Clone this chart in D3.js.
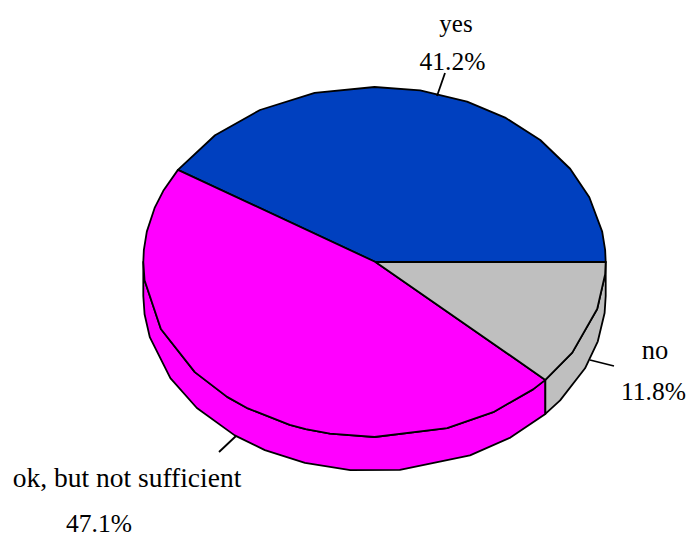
<!DOCTYPE html>
<html><head><meta charset="utf-8">
<script src="https://cdn.jsdelivr.net/npm/d3@7"></script>
<style>html,body{margin:0;padding:0;background:#fff}svg{display:block}text{font-family:"Liberation Serif",serif;fill:#000;text-anchor:middle}</style>
</head><body><script>
const categories=["yes","ok, but not sufficient","no"];
const counts=[7,8,2];
const percentLabels=["41.2%","47.1%","11.8%"];
const colours=["#0040bf","#ff00ff","#bfbfbf"];
// polygon vertices of the coarse ellipse, in degrees round the disc
const rimDegrees=[4,10,21.7,32.2,44.2,55.6,66.4,78.6,90,105,119.7,133.6,156,162,170,176,180,186,202.5,219,230.4,236.8,248.5,252.7,258.9,270,288.3,300.9,313.3,328.8,344.4,356];
const wallDegrees=[186,193.6,208,219.8,232.8,241.7,252.5,264,276.3,294.4,306,323.4,335.6,345,354.4];
const W=688,H=534;
const cx=374.5,cy=262,rx=231.2,ry=175,depth=34;
const svg=d3.select("body").append("svg").attr("width",W).attr("height",H);
const arcs=d3.pie().sort(null).startAngle(0).endAngle(2*Math.PI)(counts);
const rad=d3.scaleLinear().domain([0,360]).range([0,2*Math.PI]);
const x=d3.scaleLinear().domain([-1,1]).range([cx-rx,cx+rx]);
const y=d3.scaleLinear().domain([-1,1]).range([cy+ry,cy-ry]);
const line=d3.line();
const between=(list,a,b)=>[a,...list.map(rad).filter(t=>t>a+1e-6&&t<b-1e-6),b];
const pt=(t,d=0)=>[x(Math.cos(t)),y(Math.sin(t))+d];
const style=(s,fill)=>s.attr("fill",fill).attr("stroke","#000").attr("stroke-width",1.8).attr("stroke-linejoin","round");
const lo=Math.PI,hi=2*Math.PI;
arcs.forEach((d,i)=>{
  const a=Math.max(d.startAngle,lo),b=Math.min(d.endAngle,hi);
  if(b<=a)return;
  const upper=between(rimDegrees,a,b).map(t=>pt(t));
  const lower=between(wallDegrees,a,b).map(t=>pt(t,depth)).reverse();
  style(svg.append("path").attr("d",line([...upper,...lower])+"Z"),colours[i]);
});
arcs.forEach((d,i)=>{
  const p=[[x(0)+1,y(0)],...between(rimDegrees,d.startAngle,d.endAngle).map(t=>pt(t))];
  style(svg.append("path").attr("d",line(p)+"Z"),colours[i]);
});
const leaders=[[[437,96],[445,73]],[[236,436],[219,452]],[[590,360],[614,366]]];
leaders.forEach(l=>svg.append("path").attr("d",line(l)).attr("stroke","#000").attr("stroke-width",1.8).attr("fill","none"));
const namePos=[[456,32],[127,487],[655,359]];
const nameSize=[25,27.5,26.5];
const pctPos=[[452.5,70],[99,532],[653.5,400]];
categories.forEach((c,i)=>{
  svg.append("text").attr("x",namePos[i][0]).attr("y",namePos[i][1]).style("font-size",nameSize[i]+"px").text(c);
  svg.append("text").attr("x",pctPos[i][0]).attr("y",pctPos[i][1]).style("font-size","25.5px").text(percentLabels[i]);
});
</script></body></html>
